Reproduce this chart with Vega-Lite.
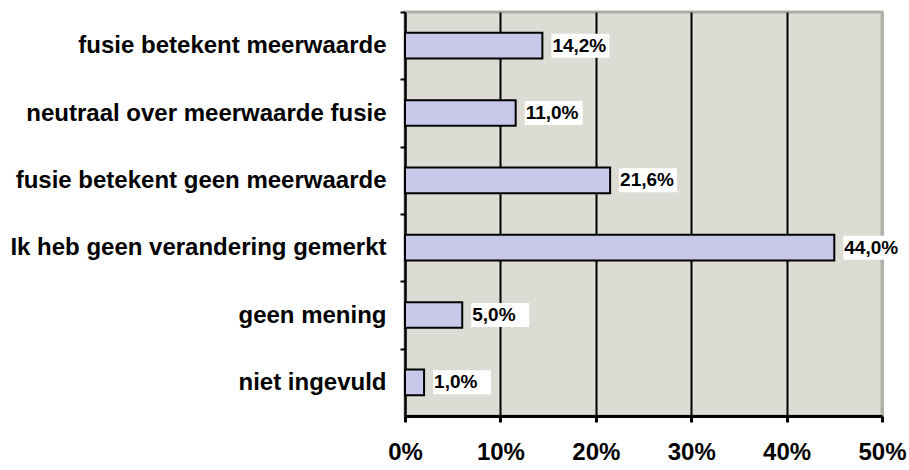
{
  "$schema": "https://vega.github.io/schema/vega-lite/v6.json",
  "width": 477,
  "height": 404,
  "autosize": {"type": "none"},
  "padding": {"left": 405, "top": 12, "right": 27, "bottom": 54},
  "background": "white",
  "config": {
    "view": {"fill": "#dcdcd4", "stroke": "#b0b0a8", "strokeWidth": 3},
    "font": "Liberation Sans"
  },
  "data": {
    "values": [
      {"categorie": "fusie betekent meerwaarde", "aandeel": 0.144, "label": "14,2%"},
      {"categorie": "neutraal over meerwaarde fusie", "aandeel": 0.116, "label": "11,0%"},
      {"categorie": "fusie betekent geen meerwaarde", "aandeel": 0.215, "label": "21,6%"},
      {"categorie": "Ik heb geen verandering gemerkt", "aandeel": 0.45, "label": "44,0%"},
      {"categorie": "geen mening", "aandeel": 0.06, "label": "5,0%"},
      {"categorie": "niet ingevuld", "aandeel": 0.02, "label": "1,0%"}
    ]
  },
  "encoding": {
    "y": {
      "field": "categorie",
      "type": "nominal",
      "sort": null,
      "scale": {"paddingInner": 0.62, "paddingOuter": 0.31},
      "axis": {
        "title": null,
        "domainColor": "black",
        "domainWidth": 2,
        "tickColor": "black",
        "tickWidth": 2,
        "tickSize": 5,
        "bandPosition": 0,
        "tickOffset": -21,
        "labelOffset": 21,
        "labelFont": "Liberation Sans",
        "labelFontWeight": "bold",
        "labelFontSize": 24,
        "labelColor": "black",
        "labelPadding": 14,
        "labelLimit": 420,
        "grid": false
      }
    },
    "x": {
      "field": "aandeel",
      "type": "quantitative",
      "scale": {"domain": [0, 0.5], "nice": false, "zero": true},
      "axis": {
        "title": null,
        "values": [0, 0.1, 0.2, 0.3, 0.4, 0.5],
        "format": ".0%",
        "domainColor": "black",
        "domainWidth": 3,
        "tickColor": "black",
        "tickWidth": 3,
        "tickSize": 6,
        "labelFont": "Liberation Sans",
        "labelFontWeight": "bold",
        "labelFontSize": 24,
        "labelColor": "black",
        "labelPadding": 18,
        "labelFlush": false,
        "grid": true,
        "gridColor": {"condition": {"test": "datum.value >= 0.5", "value": "#b0b0a8"}, "value": "black"},
        "gridWidth": {"condition": {"test": "datum.value >= 0.5", "value": 3}, "value": 2}
      }
    }
  },
  "layer": [
    {
      "mark": {"type": "bar", "fill": "#c8c8ea", "stroke": "black", "strokeWidth": 2}
    },
    {
      "mark": {
        "type": "point",
        "shape": "M0,-0.4286H2.07V0.4286H0Z",
        "size": 3136,
        "filled": true,
        "fill": "white",
        "stroke": null,
        "opacity": 1,
        "xOffset": 9
      }
    },
    {
      "mark": {
        "type": "text",
        "align": "left",
        "baseline": "middle",
        "dx": 10,
        "font": "Liberation Sans",
        "fontWeight": "bold",
        "fontSize": 19,
        "color": "black"
      },
      "encoding": {"text": {"field": "label"}}
    }
  ]
}
